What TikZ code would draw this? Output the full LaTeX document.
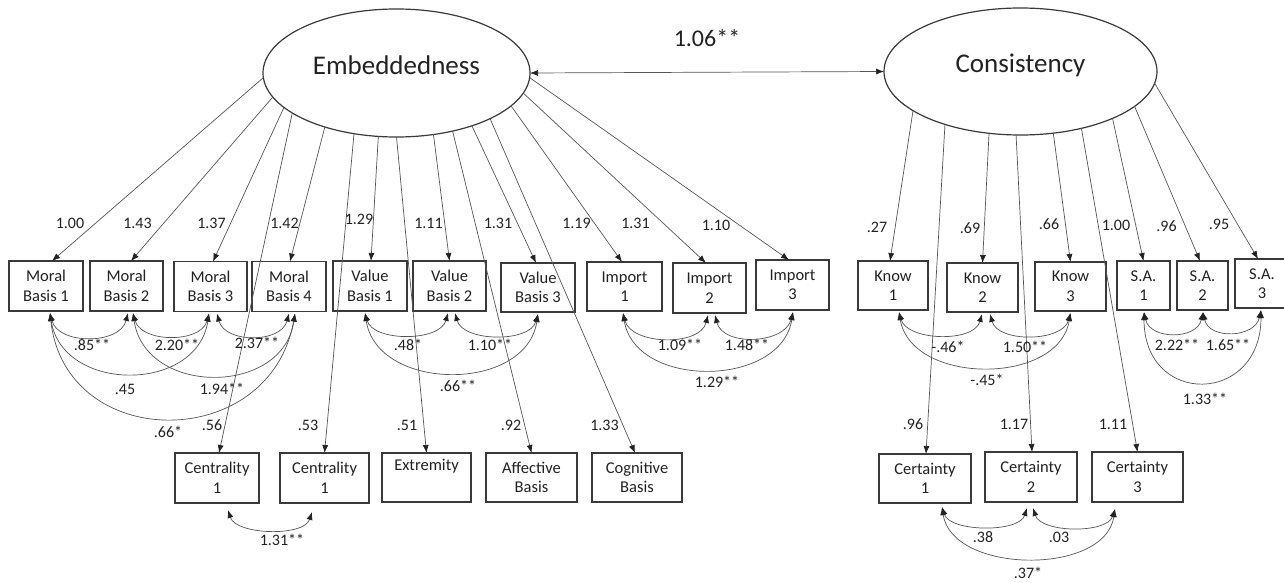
\documentclass[tikz,border=0pt]{standalone}
\usepackage{fontspec}
\setmainfont{Carlito}
\usetikzlibrary{arrows.meta,shapes.geometric}
\definecolor{boxc}{HTML}{3A3A3A}
\definecolor{lnc}{HTML}{555555}
\definecolor{tipc}{HTML}{222222}
\definecolor{txt}{HTML}{222222}
\begin{document}
\begin{tikzpicture}[x=1pt,y=-1pt,
  bx/.style={draw=boxc, line width=1.2pt, inner sep=0pt, outer sep=0pt, minimum height=50pt, align=center, font=\fontsize{16.5}{19.5}\selectfont, text=txt},
  lat/.style={draw=boxc, line width=1.2pt, ellipse, inner sep=0pt, outer sep=0pt, align=center, font=\fontsize{27}{32}\selectfont, text=txt},
  ld/.style={draw=lnc, line width=0.7pt, -{Latex[length=8pt,width=6pt,color=tipc]}},
  cv/.style={draw=lnc, line width=0.7pt, {Latex[length=8pt,width=6pt,color=tipc]}-{Latex[length=8pt,width=6pt,color=tipc]}},
  lbl/.style={font=\fontsize{16}{19}\selectfont, text=txt, inner sep=0pt}]
\useasboundingbox (0,0) rectangle (1284,583);
\fill[white] (0,0) rectangle (1284,583);
\clip (0,0) rectangle (1284,583);

% latent variables
\node[lat, minimum width=267pt, minimum height=128pt] (emb) at (396.5,73) {\raisebox{16pt}{Embeddedness}};
\node[lat, minimum width=273pt, minimum height=127pt] (cons) at (1020.5,71.5) {\raisebox{16pt}{Consistency}};
\draw[cv] (emb.east) -- (cons.west);
\node[lbl, font=\fontsize{24}{28}\selectfont] (lcov) at (707,38) {1.06**};

% row 1 indicators
\node[bx, minimum width=74pt] (mb1) at (46,286) {Moral\\Basis 1};
\node[bx, minimum width=73pt] (mb2) at (126.5,286) {Moral\\Basis 2};
\node[bx, minimum width=73pt] (mb3) at (210.5,286.5) {Moral\\Basis 3};
\node[bx, minimum width=74pt] (mb4) at (289,286.5) {Moral\\Basis 4};
\node[bx, minimum width=74pt] (vb1) at (370,286) {Value\\Basis 1};
\node[bx, minimum width=73pt] (vb2) at (449.5,286) {Value\\Basis 2};
\node[bx, minimum width=74pt, minimum height=49pt] (vb3) at (538,287.5) {Value\\Basis 3};
\node[bx, minimum width=75pt, minimum height=49pt] (im1) at (624.5,286.5) {Import\\1};
\node[bx, minimum width=73pt] (im2) at (709.5,288) {Import\\2};
\node[bx, minimum width=73pt] (im3) at (792.5,285) {Import\\3};
\node[bx, minimum width=70pt, minimum height=49pt] (kn1) at (893,285.5) {Know\\1};
\node[bx, minimum width=71pt, minimum height=49pt] (kn2) at (982.5,287.5) {Know\\2};
\node[bx, minimum width=71pt, minimum height=49pt] (kn3) at (1070.5,286.5) {Know\\3};
\node[bx, minimum width=53pt, minimum height=49pt] (sa1) at (1143.5,285.5) {S.A.\\1};
\node[bx, minimum width=51pt, minimum height=49pt] (sa2) at (1202.5,285.5) {S.A.\\2};
\node[bx, minimum width=54pt, minimum height=49pt] (sa3) at (1262,283.5) {S.A.\\3};

% row 2 indicators
\node[bx, minimum width=84pt] (ce1) at (217,478) {Centrality\\1};
\node[bx, minimum width=89pt] (ce2) at (324.5,478) {Centrality\\1};
\node[bx, minimum width=89pt, minimum height=49pt] (ext) at (426.5,477.5) {Extremity\\\strut};
\node[bx, minimum width=91pt, minimum height=49pt] (aff) at (531.5,477.5) {Affective\\Basis};
\node[bx, minimum width=90pt, minimum height=49pt] (cog) at (637,477.5) {Cognitive\\Basis};
\node[bx, minimum width=92pt, minimum height=49pt] (ct1) at (925,478.5) {Certainty\\1};
\node[bx, minimum width=92pt] (ct2) at (1031,477) {Certainty\\2};
\node[bx, minimum width=91pt] (ct3) at (1137.5,477) {Certainty\\3};

% loadings: Embeddedness
\draw[ld] (emb.-178.3) -- ([xshift=6pt]mb1.north);
\draw[ld] (emb.-169.3) -- ([xshift=4.5pt]mb2.north);
\draw[ld] (emb.-163.3) -- ([xshift=2.5pt]mb3.north);
\draw[ld] (emb.-159.6) -- ([xshift=2pt]ce1.north);
\draw[ld] (emb.-143.2) -- ([xshift=1pt]mb4.north);
\draw[ld] (emb.-125.7) -- (ce2.north);
\draw[ld] (emb.-106.1) -- ([xshift=1pt]vb1.north);
\draw[ld] (emb.-90) -- (ext.north);
\draw[ld] (emb.-59.5) -- (vb2.north);
\draw[ld] (emb.-46.2) -- (aff.north);
\draw[ld] (emb.-35.6) -- ([xshift=-2pt]vb3.north);
\draw[ld] (emb.-26.2) -- ([xshift=-2pt]cog.north);
\draw[ld] (emb.-16.3) -- ([xshift=-2.5pt]im1.north);
\draw[ld] (emb.-9.6) -- ([xshift=-3.5pt]im2.north);
\draw[ld] (emb.-2.5) -- ([xshift=-3.5pt]im3.north);

% loadings: Consistency
\draw[ld] (cons.-160.1) -- ([xshift=-3pt]kn1.north);
\draw[ld] (cons.-145.6) -- ([xshift=1pt]ct1.north);
\draw[ld] (cons.-117.1) -- (kn2.north);
\draw[ld] (cons.-94) -- ([xshift=1pt]ct2.north);
\draw[ld] (cons.-62.9) -- (kn3.north);
\draw[ld] (cons.-43.5) -- (ct3.north);
\draw[ld] (cons.-27.2) -- (sa1.north);
\draw[ld] (cons.-17.5) -- ([xshift=-2.5pt]sa2.north);
\draw[ld] (cons.-5.8) -- ([xshift=-4pt]sa3.north);

% loading labels
\node[lbl] (a1) at (70,223) {1.00};
\node[lbl] (a2) at (137.5,223) {1.43};
\node[lbl] (a3) at (211.5,223) {1.37};
\node[lbl] (a4) at (284.5,223) {1.42};
\node[lbl] (a5) at (359,219) {1.29};
\node[lbl] (a6) at (428.5,223) {1.11};
\node[lbl] (a7) at (498,223) {1.31};
\node[lbl] (a8) at (576.5,223) {1.19};
\node[lbl] (a9) at (635.5,223) {1.31};
\node[lbl] (a10) at (716,225) {1.10};
\node[lbl] (b1) at (877,227) {.27};
\node[lbl] (b2) at (970,228) {.69};
\node[lbl] (b3) at (1049,224) {.66};
\node[lbl] (b4) at (1116,225) {1.00};
\node[lbl] (b5) at (1166.5,226) {.96};
\node[lbl] (b6) at (1219,224) {.95};
\node[lbl] (c1) at (212,425) {.56};
\node[lbl] (c2) at (308,425) {.53};
\node[lbl] (c3) at (407,425) {.51};
\node[lbl] (c4) at (511,425) {.92};
\node[lbl] (c5) at (604.5,425) {1.33};
\node[lbl] (c6) at (913,424) {.96};
\node[lbl] (c7) at (1014,424) {1.17};
\node[lbl] (c8) at (1113,424) {1.11};

% covariances: moral basis
\draw[cv] ([xshift=4pt,yshift=-2pt]mb1.south) .. controls +(8,32) and +(-8,32) .. ([xshift=1.5pt,yshift=-2pt]mb2.south);
\draw[cv] ([xshift=6.5pt,yshift=-2pt]mb2.south) .. controls +(8,30) and +(-8,30) .. ([xshift=-1.5pt,yshift=-2pt]mb3.south);
\draw[cv] ([xshift=6.5pt,yshift=-2pt]mb3.south) .. controls +(8,30) and +(-8,30) .. ([yshift=-2pt]mb4.south);
\draw[cv] ([xshift=4pt,yshift=-2pt]mb1.south) .. controls +(12,80) and +(-12,80) .. ([xshift=-1.5pt,yshift=-2pt]mb3.south);
\draw[cv] ([xshift=6.5pt,yshift=-2pt]mb2.south) .. controls +(12,83) and +(-12,83) .. ([xshift=6pt,yshift=-2pt]mb4.south);
\draw[cv] ([xshift=4pt,yshift=-2pt]mb1.south) .. controls +(15,140) and +(-25,140) .. ([xshift=6pt,yshift=-2pt]mb4.south);
% value basis
\draw[cv] ([xshift=-5pt,yshift=-2pt]vb1.south) .. controls +(8,29) and +(-8,29) .. ([xshift=-1.5pt,yshift=-2pt]vb2.south);
\draw[cv] ([xshift=5.5pt,yshift=-2pt]vb2.south) .. controls +(8,29) and +(-8,29) .. ([yshift=-2pt]vb3.south);
\draw[cv] ([xshift=-5pt,yshift=-2pt]vb1.south) .. controls +(12,79) and +(-12,79) .. ([yshift=-2pt]vb3.south);
% import
\draw[cv] ([xshift=-1.5pt,yshift=-2pt]im1.south) .. controls +(8,32) and +(-8,32) .. ([xshift=-1.5pt,yshift=-2pt]im2.south);
\draw[cv] ([xshift=5.5pt,yshift=-2pt]im2.south) .. controls +(8,32) and +(-8,32) .. ([xshift=0.5pt,yshift=-2pt]im3.south);
\draw[cv] ([xshift=-1.5pt,yshift=-2pt]im1.south) .. controls +(12,76) and +(-12,76) .. ([xshift=0.5pt,yshift=-2pt]im3.south);
% know
\draw[cv] ([xshift=6pt,yshift=-2pt]kn1.south) .. controls +(8,29) and +(-8,29) .. ([xshift=-0.5pt,yshift=-2pt]kn2.south);
\draw[cv] ([xshift=7.5pt,yshift=-2pt]kn2.south) .. controls +(8,29) and +(-8,29) .. ([yshift=-2pt]kn3.south);
\draw[cv] ([xshift=6pt,yshift=-2pt]kn1.south) .. controls +(12,73) and +(-12,73) .. ([yshift=-2pt]kn3.south);
% S.A.
\draw[cv] ([xshift=0.5pt,yshift=-2pt]sa1.south) .. controls +(6,28) and +(-6,28) .. ([xshift=0.5pt,yshift=-2pt]sa2.south);
\draw[cv] ([xshift=0.5pt,yshift=-2pt]sa2.south) .. controls +(6,28) and +(-6,28) .. ([xshift=-1pt,yshift=-2pt]sa3.south);
\draw[cv] ([xshift=0.5pt,yshift=-2pt]sa1.south) .. controls +(0,95) and +(0,95) .. ([xshift=-1pt,yshift=-2pt]sa3.south);
% centrality
\draw[cv] ([xshift=11pt,yshift=-7pt]ce1.south) .. controls +(8,25) and +(-8,25) .. ([xshift=-12.5pt,yshift=-9pt]ce2.south);
% certainty
\draw[cv] ([xshift=17pt,yshift=-4pt]ct1.south) .. controls +(8,25) and +(-8,25) .. ([xshift=-4pt,yshift=-6pt]ct2.south);
\draw[cv] ([xshift=2pt,yshift=-6pt]ct2.south) .. controls +(8,25) and +(-8,25) .. ([xshift=-22.5pt,yshift=-7pt]ct3.south);
\draw[cv] ([xshift=17pt,yshift=-4pt]ct1.south) .. controls +(10,67) and +(-10,67) .. ([xshift=-22.5pt,yshift=-7pt]ct3.south);

% covariance labels
\node[lbl] (d1) at (92,345) {.85**};
\node[lbl] (d2) at (177,345) {2.20**};
\node[lbl] (d3) at (257,343) {2.37**};
\node[lbl] (d4) at (125,389) {.45};
\node[lbl] (d5) at (222,389) {1.94**};
\node[lbl] (d6) at (168,432) {.66*};
\node[lbl] (d7) at (408,345) {.48*};
\node[lbl] (d8) at (490,345) {1.10**};
\node[lbl] (d9) at (458,386) {.66**};
\node[lbl] (d10) at (680,345) {1.09**};
\node[lbl] (d11) at (747,345) {1.48**};
\node[lbl] (d12) at (717,382) {1.29**};
\node[lbl] (d13) at (948,347) {-.46*};
\node[lbl] (d14) at (1025,347) {1.50**};
\node[lbl] (d15) at (987,380) {-.45*};
\node[lbl] (d16) at (1177,345) {2.22**};
\node[lbl] (d17) at (1228,345) {1.65**};
\node[lbl] (d18) at (1205,399) {1.33**};
\node[lbl] (d19) at (282,540) {1.31**};
\node[lbl] (d20) at (983,537) {.38};
\node[lbl] (d21) at (1059,537) {.03};
\node[lbl] (d22) at (1028,573) {.37*};
\end{tikzpicture}
\end{document}
